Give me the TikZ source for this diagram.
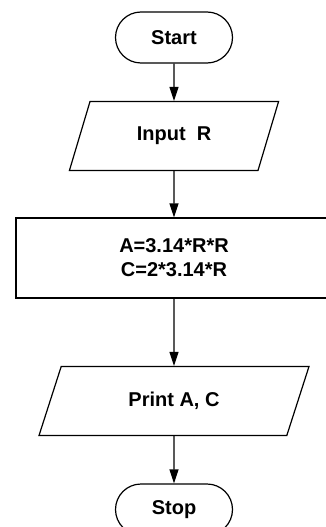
\documentclass[tikz,border=0pt]{standalone}
\usepackage{fontspec}
\setmainfont{Liberation Sans}
\usetikzlibrary{arrows.meta, shapes.geometric, shapes.misc, positioning}

\begin{document}
\begin{tikzpicture}[x=1pt, y=-1pt, line width=1.2pt, font=\fontsize{20}{24}\selectfont\bfseries]
        \useasboundingbox (0,0) rectangle (326,527);
        \tikzset{
            terminal/.style={draw, rounded rectangle, minimum width=117pt, minimum height=51pt, inner sep=0pt},
            io/.style={draw, trapezium, trapezium left angle=63, trapezium right angle=117,
                trapezium stretches=true, minimum height=69pt, inner sep=0pt},
            process/.style={draw, rectangle, minimum width=316pt, minimum height=80pt, align=center},
        }

        % steps of the flow
        \node[terminal] (start) at (174,37.5) {Start};
        \node[io, minimum width=211pt] (input) at (174,136) {Input~~R};
        \node[process] (calc) at (174,258) {A=3.14*R*R\\C=2*3.14*R};
        \node[io, minimum width=270pt] (print) at (174,401) {Print A, C};
        \node[terminal] (stop) at (174,509.5) {Stop};

        % directed edges
        \foreach \a/\b in {start/input, input/calc, calc/print, print/stop}
            \draw[>={Triangle[length=14pt, width=9pt]}, ->] (\a.south) -- (\b.north);
\end{tikzpicture}
\end{document}
